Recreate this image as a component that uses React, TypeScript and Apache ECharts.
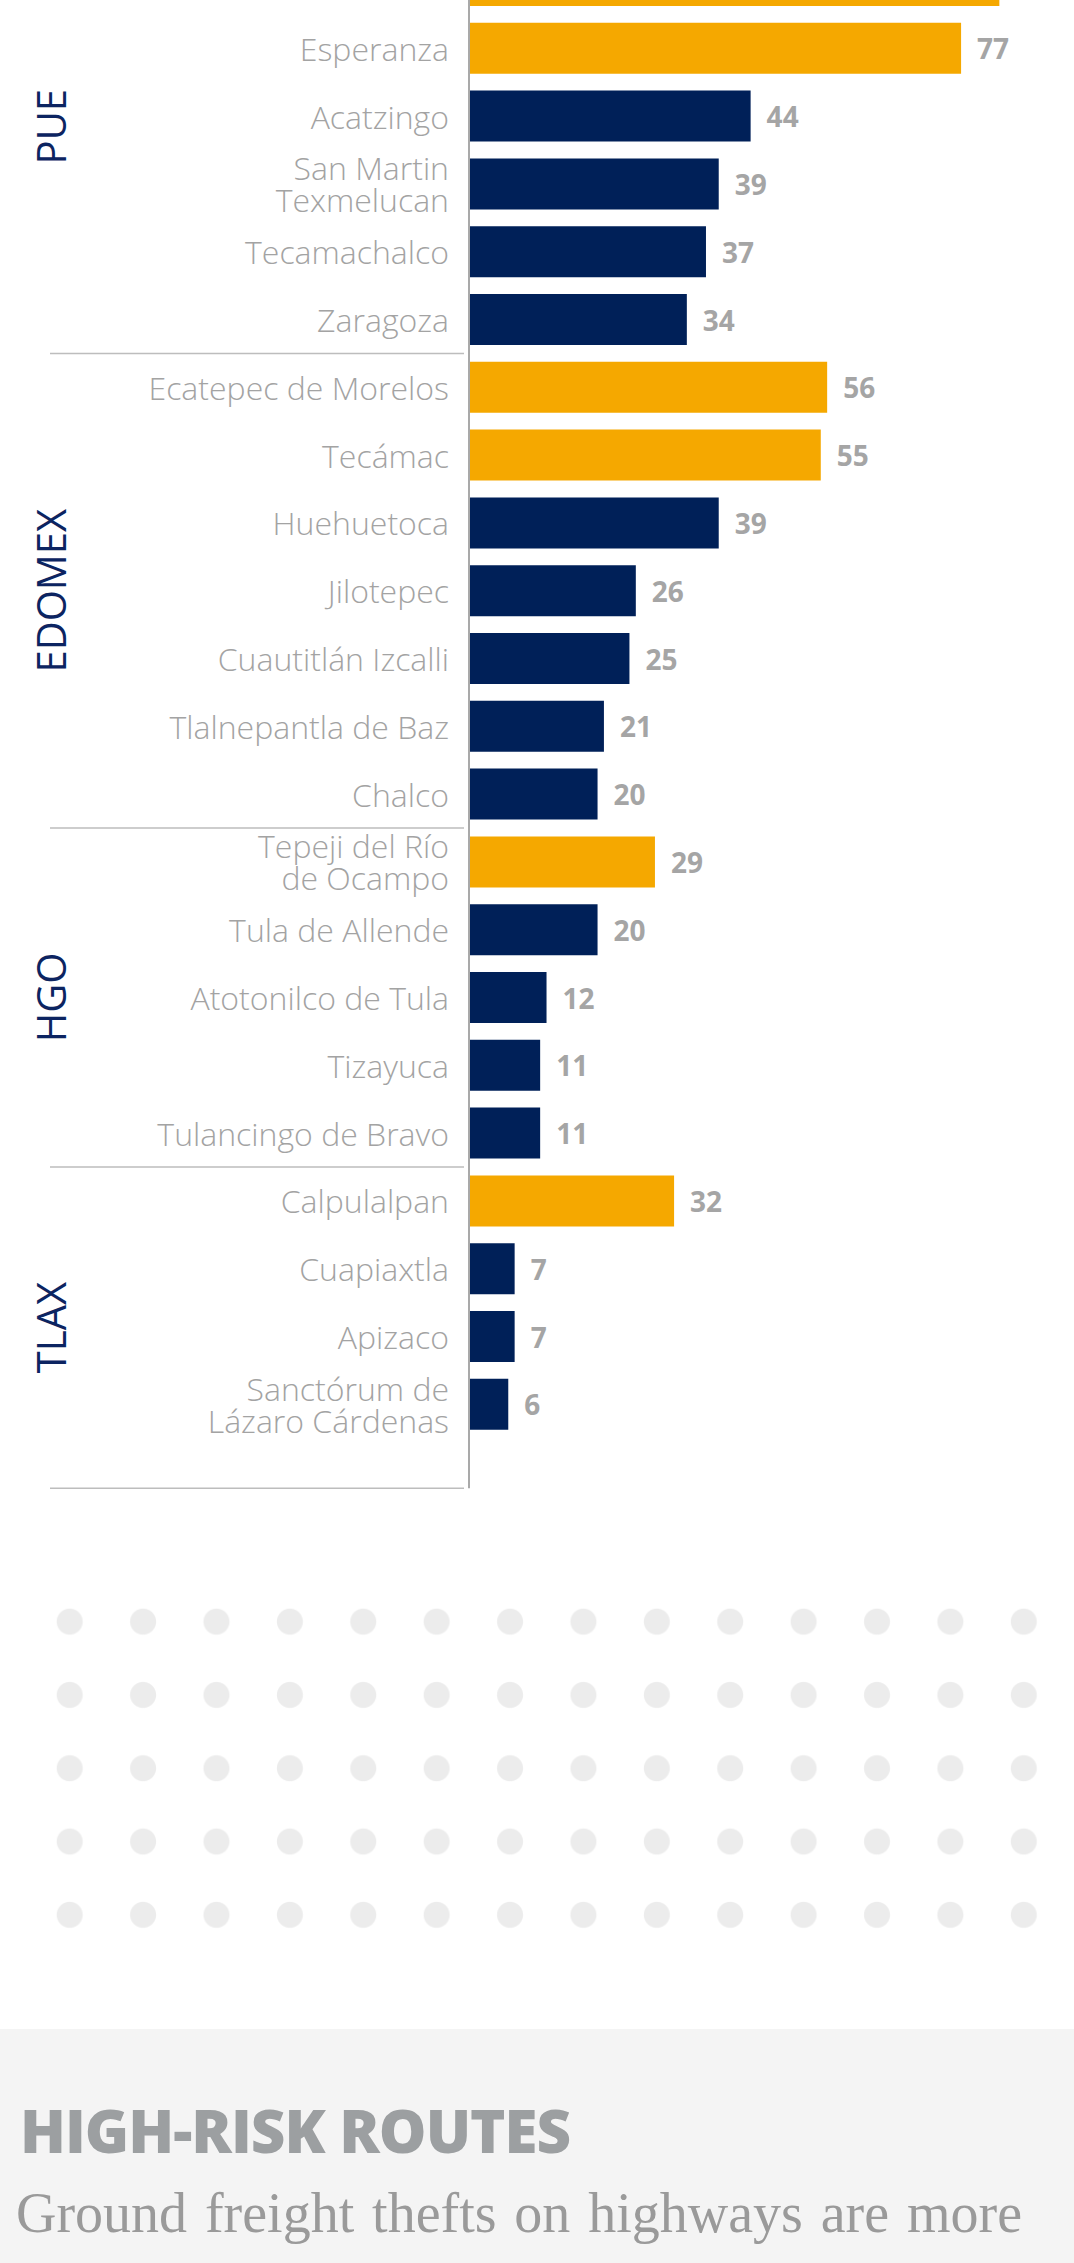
import React, { useEffect, useRef } from "react";
import * as echarts from "echarts";

// ---- data ----
const categories: string[] = [
  "",
  "Esperanza",
  "Acatzingo",
  "San Martin\nTexmelucan",
  "Tecamachalco",
  "Zaragoza",
  "Ecatepec de Morelos",
  "Tecámac",
  "Huehuetoca",
  "Jilotepec",
  "Cuautitlán Izcalli",
  "Tlalnepantla de Baz",
  "Chalco",
  "Tepeji del Río\nde Ocampo",
  "Tula de Allende",
  "Atotonilco de Tula",
  "Tizayuca",
  "Tulancingo de Bravo",
  "Calpulalpan",
  "Cuapiaxtla",
  "Apizaco",
  "Sanctórum de\nLázaro Cárdenas",
];
const values: number[] = [83, 77, 44, 39, 37, 34, 56, 55, 39, 26, 25, 21, 20, 29, 20, 12, 11, 11, 32, 7, 7, 6];
const highlighted: number[] = [1, 1, 0, 0, 0, 0, 1, 1, 0, 0, 0, 0, 0, 1, 0, 0, 0, 0, 1, 0, 0, 0];
const groupNames: string[] = ["PUE", "EDOMEX", "HGO", "TLAX"];
const groupSizes: number[] = [6, 7, 5, 4];

const GOLD = "#f5a800";
const NAVY = "#002058";
const LABEL_GREY = "#a3a3a3";

const TOP_PAD = 100;
const CHART_H = 1620;

export default function App() {
  const ref = useRef<HTMLDivElement>(null);

  useEffect(() => {
    document.body.style.margin = "0";
    if (!ref.current) return;
    const chart = echarts.init(ref.current, undefined, { renderer: "svg" });
    const pitch = 67.8;
    const gridTop = 46.6;
    chart.setOption({
      animation: false,
      grid: {
        left: 470,
        width: 574,
        top: gridTop,
        height: pitch * categories.length,
      },
      xAxis: {
        type: "value",
        min: 0,
        max: 90,
        show: false,
      },
      yAxis: {
        type: "category",
        inverse: true,
        data: categories,
        axisLine: { show: false },
        axisTick: { show: false },
        splitLine: { show: false },
        axisLabel: {
          margin: 21,
          fontFamily: "Open Sans",
          fontWeight: 300,
          fontSize: 32,
          lineHeight: 32,
          color: LABEL_GREY,
          align: "right",
        },
      },
      series: [
        {
          type: "bar",
          barWidth: 51,
          data: values.map((v, i) => ({
            value: v,
            itemStyle: { color: highlighted[i] ? GOLD : NAVY },
            label: { show: categories[i] !== "" },
          })),
          label: {
            show: true,
            position: "right",
            distance: 16,
            fontFamily: "Open Sans",
            fontWeight: 700,
            fontSize: 28,
            color: "#a5a5a5",
          },
        },
      ],
    });

    // decorations derived from the axes
    const x0 = chart.convertToPixel({ xAxisIndex: 0 }, 0) as number;
    const yc = (i: number) => chart.convertToPixel({ yAxisIndex: 0 }, i) as number;
    const band = yc(1) - yc(0);
    const bottomExtra = 50;
    const graphics: any[] = [];
    let start = 0;
    let lastBottom = 0;
    groupSizes.forEach((n, g) => {
      const end = start + n - 1;
      const top = g === 0 ? 0 : (yc(start - 1) + yc(start)) / 2;
      const bottom =
        g === groupSizes.length - 1 ? yc(end) + band / 2 + bottomExtra : (yc(end) + yc(end + 1)) / 2;
      graphics.push({
        type: "line",
        shape: { x1: 50, y1: bottom, x2: x0 - 6, y2: bottom },
        style: { stroke: "#bdbdbd", lineWidth: 1.5 },
        silent: true,
      });
      graphics.push({
        type: "text",
        x: 50,
        y: (top + bottom) / 2,
        rotation: Math.PI / 2,
        style: {
          text: groupNames[g],
          fontFamily: "Open Sans",
          fontWeight: 400,
          fontSize: 40,
          fill: "#0c2461",
          align: "center",
          verticalAlign: "middle",
        },
        silent: true,
      });
      lastBottom = bottom;
      start = end + 1;
    });
    graphics.push({
      type: "line",
      shape: { x1: x0 - 1, y1: 0, x2: x0 - 1, y2: lastBottom },
      style: { stroke: "#a9a9a9", lineWidth: 2 },
      silent: true,
    });
    chart.setOption({ graphic: graphics });

    return () => chart.dispose();
  }, []);

  return (
    <div
      style={{
        position: "absolute",
        left: 0,
        top: 0,
        width: 1074,
        height: 2263,
        overflow: "hidden",
        background: "#ffffff",
      }}
    >
      <div
        ref={ref}
        style={{ position: "absolute", left: 0, top: -TOP_PAD, width: 1074, height: CHART_H }}
      />
      <div
        style={{
          position: "absolute",
          left: 33.2,
          top: 1585,
          width: 73.4 * 14,
          height: 73.3 * 5,
          backgroundImage: "radial-gradient(circle, #ececec 12.5px, rgba(236,236,236,0) 13.5px)",
          backgroundSize: "73.4px 73.3px",
        }}
      />
      <div
        style={{
          position: "absolute",
          left: 0,
          top: 2029,
          width: 1074,
          height: 2263 - 2029,
          background: "#f4f4f4",
        }}
      />
      <div
        style={{
          position: "absolute",
          left: 20,
          top: 2099.7,
          fontFamily: "'Open Sans', sans-serif",
          fontWeight: 800,
          fontSize: 60,
          lineHeight: "60px",
          color: "#9c9fa1",
          whiteSpace: "nowrap",
          letterSpacing: -1,
        }}
      >
        HIGH-RISK ROUTES
      </div>
      <div
        style={{
          position: "absolute",
          left: 16,
          top: 2180.8,
          width: 1006,
          fontFamily: "'Liberation Serif', serif",
          fontSize: 56,
          lineHeight: "64px",
          color: "#9a9a9a",
          textAlign: "justify",
          textAlignLast: "justify",
          whiteSpace: "nowrap",
        }}
      >
        Ground freight thefts on highways are more
      </div>
    </div>
  );
}
